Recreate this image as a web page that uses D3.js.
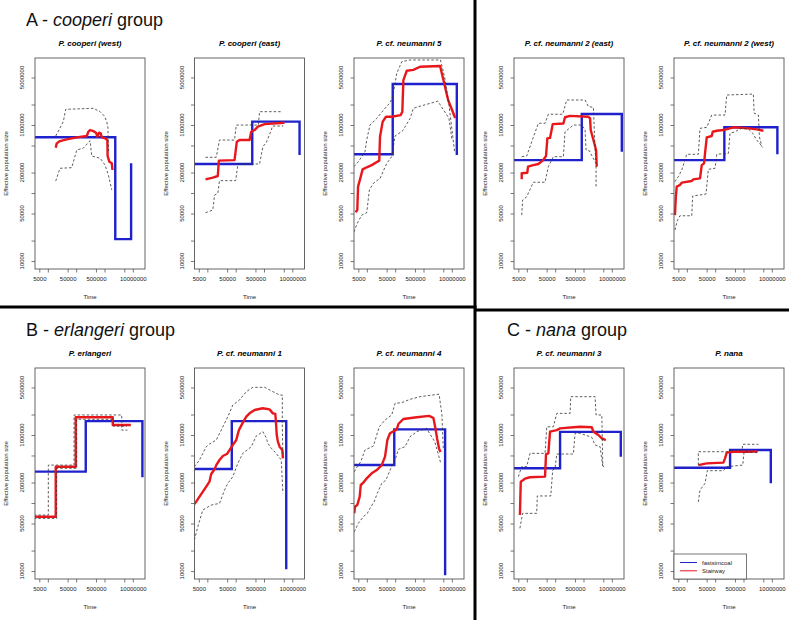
<!DOCTYPE html>
<html><head><meta charset="utf-8">
<script src="https://cdn.jsdelivr.net/npm/d3@7"></script>
<style>
body{margin:0;background:#fff;}
svg text{font-family:"Liberation Sans",Arial,Helvetica,sans-serif;}
</style></head><body>
<svg id="c" width="789" height="620"></svg>
<script>
const panelTitles = ["P. cooperi (west)","P. cooperi (east)","P. cf. neumanni 5","P. cf. neumanni 2 (east)","P. cf. neumanni 2 (west)",
  "P. erlangeri","P. cf. neumanni 1","P. cf. neumanni 4","P. cf. neumanni 3","P. nana"];
const groupTitles = [["A - ","cooperi"," group"],["B - ","erlangeri"," group"],["C - ","nana"," group"]];
const xTicks = [5000,1e4,5e4,1e5,5e5,1e6,5e6,1e7];
const xLabels = [5000,50000,500000,10000000];
const yTicks = [1e4,2e4,5e4,1e5,2e5,5e5,1e6,2e6,5e6];
const yLabels = [10000,50000,200000,1000000,5000000];
const legendLabels = ["fastsimcoal","Stairway"];

// fastsimcoal step model: change times and sizes (present -> past)
const fscBreaks = [
 [2.4e6,8.7e6],[385000,1.8e7],[82000,1.5e7],[869000,2.25e7],[211000,1.57e7],
 [218000,2.18e7],[73000,6.1e6],[93000,5.8e6],[149000,2.07e7],[336000,9.2e6]];
const fscSizes = [
 [660000,21000,273000],[267000,1.12e6,361000],[371000,4.0e6,361000],[305000,1.45e6,404000],[305000,925000,371000],
 [289000,1.6e6,239000],[316000,1.6e6,10600],[362000,1.21e6,8700],[324000,1.11e6,480000],[330000,602000,195000]];

// Stairway median [time, Ne]
const stairway = [
 [[19000,463000],[20600,537000],[26900,581000],[46500,615000],[105000,659000],[237000,689000],[269000,796000],[309000,843000],[405000,813000],[501000,771000],[561000,673000],[643000,771000],[738000,753000],[802000,659000],[1.05e6,637000],[1.26e6,601000],[1.29e6,350000],[1.49e6,288000],[1.81e6,273000],[1.91e6,218000]],
 [[8600,159000],[15600,168000],[23400,178000],[25500,299000],[91200,305000],[110000,568000],[137000,601000],[309000,601000],[355000,796000],[465000,843000],[608000,944000],[1.05e6,1.03e6],[5.3e6,1.08e6]],
 [[4000,52000],[4600,56200],[4900,124000],[6100,174000],[7100,223000],[9900,239000],[14900,257000],[23400,288000],[27500,299000],[29200,673000],[36300,1.12e6],[47600,1.32e6],[75900,1.32e6],[157000,1.40e6],[179000,1.57e6],[195000,4.58e6],[257000,6.28e6],[440000,6.46e6],[757000,7.19e6],[3.86e6,7.36e6],[7.4e6,2.33e6],[1.02e7,1.66e6],[1.31e7,1.27e6]],
 [[6600,159000],[6600,195000],[10400,199000],[11000,244000],[16900,257000],[25500,267000],[36400,299000],[47600,350000],[53000,637000],[65900,646000],[82000,1.03e6],[195000,1.05e6],[223000,1.30e6],[336000,1.36e6],[1.49e6,1.32e6],[1.71e6,1.25e6],[1.80e6,843000],[2.24e6,601000],[2.78e6,429000],[2.94e6,244000]],
 [[3800,47400],[4100,88100],[4400,124000],[5700,131000],[6600,142000],[14900,150000],[16900,159000],[29200,164000],[33600,257000],[40500,273000],[43900,383000],[50400,659000],[75700,689000],[82000,796000],[114000,824000],[195000,843000],[440000,925000],[1.49e6,893000],[2.94e6,863000],[5.05e6,824000]],
 [[3200,62800],[19000,62800],[19000,342000],[96600,342000],[96600,1.82e6],[1.96e6,1.82e6],[1.96e6,1.40e6],[8.5e6,1.40e6]],
 [[3500,96600],[4000,104000],[5300,124000],[7900,159000],[11900,206000],[13700,267000],[18000,313000],[20600,361000],[26900,429000],[35200,491000],[49000,525000],[69800,658000],[105000,843000],[130000,1.18e6],[179000,1.52e6],[237000,1.86e6],[309000,2.08e6],[465000,2.33e6],[912000,2.47e6],[1.57e6,2.38e6],[2.06e6,2.08e6],[2.51e6,2.04e6],[2.63e6,1.58e6],[2.82e6,1.0e6],[3.09e6,798000],[3.55e6,673000],[4.43e6,603000],[4.65e6,454000]],
 [[3600,70500],[3800,88100],[4600,93300],[5600,124000],[6100,184000],[7500,199000],[9900,231000],[14900,273000],[22400,305000],[33600,361000],[43900,480000],[53000,843000],[65900,1.06e6],[114000,1.21e6],[130000,1.45e6],[195000,1.72e6],[578000,1.82e6],[1.58e6,1.91e6],[2.24e6,1.78e6],[2.63e6,1.26e6],[3.02e6,891000],[3.55e6,631000],[3.98e6,562000]],
 [[5700,66500],[6100,206000],[7500,218000],[8600,229000],[12900,239000],[43900,244000],[47600,525000],[57400,537000],[65900,1.12e6],[114000,1.18e6],[149000,1.25e6],[439000,1.30e6],[757000,1.32e6],[1.96e6,1.30e6],[2.23e6,1.12e6],[3.36e6,1.0e6],[4.43e6,893000],[6.12e6,843000]],
 [[25500,361000],[50400,383000],[195000,392000],[223000,454000],[256000,550000],[440000,568000],[1.71e6,568000],[3.2e6,575000]]
];

// Stairway 95% CI upper
const ciUpper = [
 [[19000,689000],[35200,1.12e6],[42700,1.70e6],[405000,1.76e6],[698000,1.57e6],[1.0e6,1.35e6],[1.2e6,1.12e6],[1.32e6,933000],[1.35e6,562000],[1.41e6,398000]],
 [[8600,335000],[20600,335000],[26900,601000],[91200,601000],[105000,998000],[631000,998000],[698000,1.57e6],[4.43e6,1.57e6]],
 [[3500,244000],[5000,288000],[8600,405000],[9900,601000],[12900,998000],[22400,1.25e6],[43900,1.76e6],[66100,2.13e6],[82000,2.61e6],[114000,5.75e6],[171000,8.51e6],[336000,9.04e6],[3.98e6,9.04e6],[5.6e6,5.0e6],[7.9e6,2.0e6],[1.26e7,398000]],
 [[6600,342000],[9900,350000],[14900,568000],[25500,1.06e6],[43900,1.06e6],[57400,1.44e6],[185000,1.44e6],[256000,2.33e6],[1.14e6,2.33e6],[1.49e6,1.86e6],[2.24e6,1.82e6],[2.37e6,998000],[2.57e6,429000],[2.75e6,282000]],
 [[3800,147000],[5000,174000],[6600,218000],[9400,342000],[9800,371000],[25500,371000],[29200,893000],[50400,925000],[75700,1.40e6],[223000,1.40e6],[256000,2.76e6],[2.23e6,2.85e6],[2.37e6,1.49e6],[3.36e6,1.40e6],[3.64e6,673000],[4.43e6,480000]],
 [[3200,66500],[10400,66500],[10400,361000],[84100,361000],[84100,1.97e6],[4.07e6,1.97e6],[4.07e6,1.18e6],[6.46e6,1.18e6]],
 [[3500,342000],[5300,429000],[9100,673000],[11900,736000],[20600,843000],[30900,1.18e6],[53000,1.86e6],[79400,2.76e6],[137000,3.27e6],[237000,4.34e6],[405000,5.02e6],[1.05e6,5.02e6],[2.06e6,4.34e6],[3.55e6,3.87e6],[4.43e6,3.87e6],[4.43e6,1.40e6],[4.65e6,490000]],
 [[3600,288000],[4600,342000],[6100,405000],[8600,601000],[17000,689000],[27500,1.32e6],[43900,1.66e6],[75700,1.97e6],[99100,2.92e6],[171000,2.99e6],[336000,3.35e6],[757000,3.66e6],[3.55e6,3.98e6],[4.47e6,2.0e6],[5.0e6,631000]],
 [[5000,244000],[6600,342000],[9900,342000],[12900,537000],[43900,537000],[50500,1.32e6],[86300,1.32e6],[114000,2.08e6],[336000,2.08e6],[355000,3.66e6],[2.56e6,3.66e6],[2.78e6,1.97e6],[4.43e6,1.97e6],[4.8e6,361000],[5.25e6,339000]],
 [[25500,363000],[25500,568000],[256000,568000],[398000,589000],[891000,603000],[942000,730000],[3.36e6,730000]]
];

// Stairway 95% CI lower
const ciLower = [
 [[19000,150000],[26900,231000],[69700,236000],[105000,429000],[179000,457000],[309000,587000],[355000,350000],[708000,324000],[1.05e6,257000],[1.37e6,184000],[1.81e6,111000]],
 [[8600,51300],[15600,56200],[18000,93300],[23400,98900],[26900,152000],[100000,152000],[120000,267000],[698000,267000],[912000,480000],[1.2e6,550000],[1.81e6,843000],[2.0e6,966000],[4.8e6,966000]],
 [[3500,26900],[4600,35900],[6600,47400],[9900,51300],[12300,111000],[17000,139000],[29200,164000],[50400,273000],[75900,342000],[99100,689000],[185000,824000],[336000,1.25e6],[440000,1.76e6],[661000,1.86e6],[3.2e6,2.24e6],[7.9e6,1.26e6],[1.0e7,631000]],
 [[6600,47400],[7100,78900],[9900,88100],[16900,144000],[43900,144000],[57400,244000],[86300,342000],[195000,342000],[223000,796000],[439000,998000],[869000,998000],[1.14e6,843000],[1.23e6,429000],[1.62e6,417000],[2.12e6,335000],[2.78e6,273000],[2.78e6,124000]],
 [[3800,28600],[4600,39100],[5700,46300],[14900,46300],[16100,90400],[47600,96600],[57400,223000],[99100,231000],[114000,371000],[292000,383000],[336000,755000],[504000,794000],[661000,851000],[869000,893000],[1.49e6,871000],[2.12e6,755000],[2.94e6,601000],[4.8e6,469000]],
 [[3200,59400],[20600,59400],[20600,324000],[105000,324000],[105000,1.70e6],[2.06e6,1.70e6],[2.06e6,1.35e6],[6.12e6,1.35e6]],
 [[3500,28600],[4600,44800],[6900,78900],[13700,93300],[26900,98900],[40500,155000],[53000,195000],[79400,244000],[119000,383000],[179000,537000],[355000,673000],[532000,966000],[912000,1.12e6],[1.2e6,912000],[1.37e6,753000],[1.81e6,637000],[2.69e6,537000],[4.07e6,429000],[4.65e6,139000]],
 [[3600,37800],[5000,50200],[7500,62800],[10400,70500],[12900,83600],[18000,104000],[23400,139000],[33600,195000],[47600,218000],[65900,305000],[99100,429000],[130000,615000],[223000,673000],[336000,944000],[578000,1.12e6],[1.26e6,1.26e6],[2.51e6,794000],[3.98e6,398000]],
 [[5700,42500],[7100,70500],[22300,70500],[23400,127000],[69800,127000],[82000,305000],[99100,324000],[114000,525000],[439000,525000],[504000,1.06e6],[757000,1.06e6],[1.96e6,925000],[2.56e6,713000],[3.85e6,673000],[4.8e6,342000]],
 [[25500,104000],[29200,155000],[43900,195000],[53000,299000],[195000,299000],[256000,342000],[942000,361000],[1.05e6,568000],[3.2e6,550000]]
];

const BLUE = "#1f22cc", RED = "#e8171c";
const W = 110, H = 211;
const panelLeft = [35, 194.5, 354, 514, 674];
const rowTop = [58, 368];

const svg = d3.select("#c");
const x = d3.scaleLog().domain([3524, 2.69e7]).range([0, W]);
const y = d3.scaleLog().domain([7640, 9.66e6]).range([H, 0]);
const line = d3.line().x(d => x(d[0])).y(d => y(d[1]));

// group titles
const gtPos = [[26, 26], [26, 336], [507, 336]];
groupTitles.forEach((t, i) => {
  const tx = svg.append("text").attr("x", gtPos[i][0]).attr("y", gtPos[i][1])
    .attr("font-size", 18).attr("fill", "#111");
  tx.append("tspan").text(t[0]);
  tx.append("tspan").attr("font-style", "italic").text(t[1]);
  tx.append("tspan").text(t[2]);
});

panelTitles.forEach((title, i) => {
  const row = Math.floor(i / 5), col = i % 5;
  const L = panelLeft[col], T = rowTop[row];
  const g = svg.append("g").attr("transform", `translate(${L},${T})`);
  const cid = "clip" + i;
  g.append("clipPath").attr("id", cid).append("rect").attr("width", W).attr("height", H);

  g.append("text").attr("x", W / 2).attr("y", -12).attr("text-anchor", "middle")
    .attr("font-size", 8).attr("font-weight", "bold").attr("font-style", "italic").text(title);

  const plot = g.append("g").attr("clip-path", `url(#${cid})`);
  // fastsimcoal steps
  const b = fscBreaks[i], s = fscSizes[i];
  const fpts = [[x.domain()[0], s[0]]];
  b.forEach((t, k) => { fpts.push([t, s[k]]); fpts.push([t, s[k + 1]]); });
  plot.append("path").attr("d", line(fpts)).attr("fill", "none").attr("stroke", BLUE)
    .attr("stroke-width", 2.4).attr("stroke-linejoin", "miter");
  plot.append("path").attr("d", line(stairway[i])).attr("fill", "none").attr("stroke", RED)
    .attr("stroke-width", 2.4).attr("stroke-linejoin", "round");
  [ciUpper[i], ciLower[i]].forEach(ci => {
    plot.append("path").attr("d", line(ci)).attr("fill", "none").attr("stroke", "#333")
      .attr("stroke-width", 0.8).attr("stroke-dasharray", "2.5,2");
  });

  g.append("rect").attr("width", W).attr("height", H).attr("fill", "none")
    .attr("stroke", "#555").attr("stroke-width", 0.9);

  // x axis
  const xa = g.append("g").attr("transform", `translate(0,${H})`)
    .call(d3.axisBottom(x).tickValues(xTicks).tickSize(3.5)
      .tickFormat(d => xLabels.includes(d) ? String(d) : ""));
  xa.select(".domain").remove();
  xa.selectAll("line").attr("stroke", "#555").attr("stroke-width", 0.8);
  xa.selectAll("text").attr("font-size", 6).attr("fill", "#222").attr("y", 7.5)
    .attr("font-family", '"Liberation Sans",Arial,sans-serif');
  // y axis
  const ya = g.append("g").call(d3.axisLeft(y).tickValues(yTicks).tickSize(3.5).tickFormat(""));
  ya.select(".domain").remove();
  ya.selectAll("line").attr("stroke", "#555").attr("stroke-width", 0.8);
  yLabels.forEach(v => {
    g.append("text").attr("transform", `translate(-13,${y(v)}) rotate(-90)`)
      .attr("text-anchor", "middle").attr("dy", "0.35em").attr("font-size", 6).attr("fill", "#222")
      .text(String(v));
  });
  g.append("text").attr("x", W / 2).attr("y", H + 30).attr("text-anchor", "middle")
    .attr("font-size", 6).attr("fill", "#222").text("Time");
  g.append("text").attr("transform", `translate(-29,${H / 2}) rotate(-90)`)
    .attr("text-anchor", "middle").attr("dy", "0.35em").attr("font-size", 6).attr("fill", "#222")
    .text("Effective population size");

  if (i === 9) {
    const lg = g.append("g").attr("transform", `translate(0,${H - 25})`);
    lg.append("rect").attr("width", 72.5).attr("height", 25).attr("fill", "#fff")
      .attr("stroke", "#555").attr("stroke-width", 0.8);
    [BLUE, RED].forEach((c, k) => {
      const yy = 8.5 + k * 8.3;
      lg.append("line").attr("x1", 6).attr("x2", 23).attr("y1", yy).attr("y2", yy)
        .attr("stroke", c).attr("stroke-width", 1);
      lg.append("text").attr("x", 28).attr("y", yy).attr("dy", "0.35em")
        .attr("font-size", 6).attr("fill", "#222").text(legendLabels[k]);
    });
  }
});

// separators
svg.append("line").attr("x1", 475).attr("x2", 475).attr("y1", 0).attr("y2", 620)
  .attr("stroke", "#000").attr("stroke-width", 3);
svg.append("line").attr("x1", 0).attr("x2", 476.5).attr("y1", 307).attr("y2", 307)
  .attr("stroke", "#000").attr("stroke-width", 3);
svg.append("line").attr("x1", 475).attr("x2", 789).attr("y1", 310).attr("y2", 310)
  .attr("stroke", "#000").attr("stroke-width", 3);
</script>
</body></html>
